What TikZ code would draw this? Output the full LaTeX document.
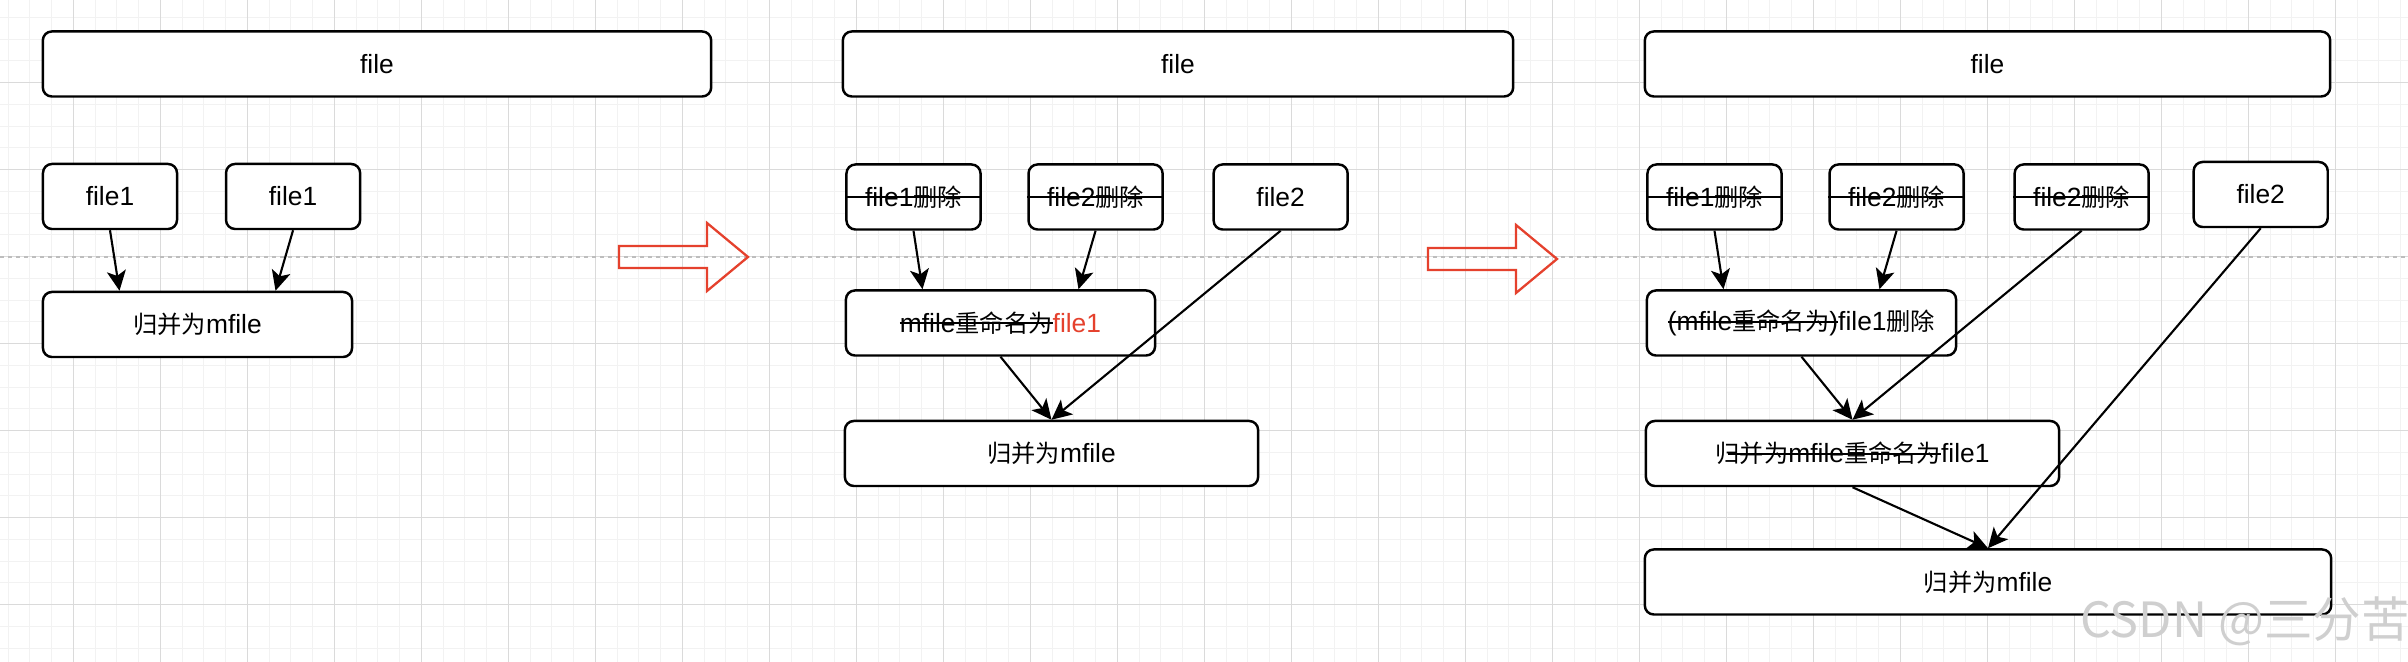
\documentclass[tikz,border=0pt]{standalone}
\usepackage{fontspec}
\setmainfont{Liberation Sans}
\newfontfamily\cjk[Scale=0.92]{Noto Sans CJK SC}
\usetikzlibrary{arrows.meta,positioning,calc}
\definecolor{FlowRed}{HTML}{E5412D}
\definecolor{GridMinor}{HTML}{F2F2F2}
\definecolor{GridMajor}{HTML}{DADADA}
\definecolor{PageDash}{HTML}{BDBDBD}
\definecolor{MarkGray}{HTML}{CFCFCF}
\newcommand\zh[1]{{\cjk #1}}
\newsavebox\strkbox
\newcommand\strk[2][0pt]{\sbox\strkbox{#2}\rlap{\hskip-#1\rule[0.3em]{\dimexpr\wd\strkbox+#1\relax}{0.55pt}}\usebox\strkbox}

\begin{document}
\begin{tikzpicture}[x=0.01cm,y=-0.01cm,
  box/.style={draw,line width=0.7pt,rounded corners=0.09cm,fill=white,inner sep=0pt,minimum height=0.65cm,font=\fontsize{7.5}{9}\selectfont},
  small/.style={box,minimum width=1.34cm},
  mid/.style={box,minimum width=3.09cm},
  wide/.style={box,minimum width=4.13cm},
  conn/.style={-{Stealth[length=0.2cm,width=0.19cm,inset=0.05cm]},line width=0.6pt},
  strikeline/.style={line width=0.55pt},
  redarrow/.style={draw=FlowRed,line width=0.65pt,line join=miter},
  gridminor/.style={draw=GridMinor,line width=0.3pt},
  gridmajor/.style={draw=GridMajor,line width=0.45pt},
  pageline/.style={draw=PageDash,line width=0.45pt,dash pattern=on 0.04cm off 0.04cm},
]
\fill[white] (0,0) rectangle (2408,662);
\useasboundingbox (0,0) rectangle (2408,662);

% background grid
\foreach \gx in {8.05,29.8,...,2408} \draw[gridminor] (\gx,0) -- (\gx,662);
\foreach \gy in {-4.3,17.45,...,662} \draw[gridminor] (0,\gy) -- (2408,\gy);
\foreach \gx in {73.3,160.3,...,2408} \draw[gridmajor] (\gx,0) -- (\gx,662);
\foreach \gy in {82.7,169.7,...,662} \draw[gridmajor] (0,\gy) -- (2408,\gy);
\draw[pageline] (0,257) -- (2408,257);

% step 1
\node[box,minimum width=6.68cm] (top1) at (377,64) {file};
\node[small] (p1a) at (110,196.5) {file1};
\node[small,right=0.465cm of p1a] (p1b) {file1};
\node[mid] (p1m) at (197.5,324.5) {\zh{归并为}mfile};

% step 2
\node[box,minimum width=6.70cm] (top2) at (1178,64) {file};
\node[small] (p2a) at (913.5,197) {file1\zh{删除}};
\node[small,right=0.455cm of p2a] (p2b) {file2\zh{删除}};
\node[small,right=0.485cm of p2b] (p2c) {file2};
\node[mid] (p2r) at (1000.5,323) {\strk{mfile\zh{重命名为}}\textcolor{FlowRed}{file1}};
\node[wide] (p2m) at (1051.5,453.5) {\zh{归并为}mfile};

% step 3
\node[box,minimum width=6.85cm] (top3) at (1987.5,64) {file};
\node[small] (p3a) at (1714.5,197) {file1\zh{删除}};
\node[small,right=0.455cm of p3a] (p3b) {file2\zh{删除}};
\node[small,right=0.485cm of p3b] (p3c) {file2\zh{删除}};
\node[small,right=0.425cm of p3c,yshift=0.025cm] (p3d) {file2};
\node[mid] (p3r) at (1801.5,323) {\strk{(mfile\zh{重命名为})}file1\zh{删除}};
\node[wide] (p3s) at (1852.5,453.5) {\zh{归}\strk[0.45em]{\zh{并为}mfile\zh{重命名为}}file1};
\node[box,minimum width=6.86cm] (p3m) at (1988,582) {\zh{归并为}mfile};

\foreach \n in {p2a,p2b,p3a,p3b,p3c} \draw[strikeline] (\n.west) -- (\n.east);

% connectors
\draw[conn] (p1a.south) -- ($(p1m.north)+(-78,0)$);
\draw[conn] (p1b.south) -- ($(p1m.north)+(78,0)$);
\draw[conn] (p2a.south) -- ($(p2r.north)+(-78,0)$);
\draw[conn] (p2b.south) -- ($(p2r.north)+(78,0)$);
\draw[conn] (p2r.south) -- (p2m.north);
\draw[conn] (p2c.south) -- (p2m.north);
\draw[conn] (p3a.south) -- ($(p3r.north)+(-78,0)$);
\draw[conn] (p3b.south) -- ($(p3r.north)+(78,0)$);
\draw[conn] (p3r.south) -- (p3s.north);
\draw[conn] (p3c.south) -- (p3s.north);
\draw[conn] (p3s.south) -- (p3m.north);
\draw[conn] (p3d.south) -- (p3m.north);

% big red arrows between steps
\foreach \ax/\ay in {619/246,1428/248}
  \draw[redarrow] (\ax,\ay) -- ++(88,0) -- ++(0,-23) -- ++(41,34) -- ++(-41,34) -- ++(0,-23) -- ++(-88,0) -- cycle;

\node[font=\cjk\fontsize{15}{17}\selectfont,text=MarkGray] (mark) at (2245,621) {CSDN @三分苦};
\end{tikzpicture}
\end{document}
